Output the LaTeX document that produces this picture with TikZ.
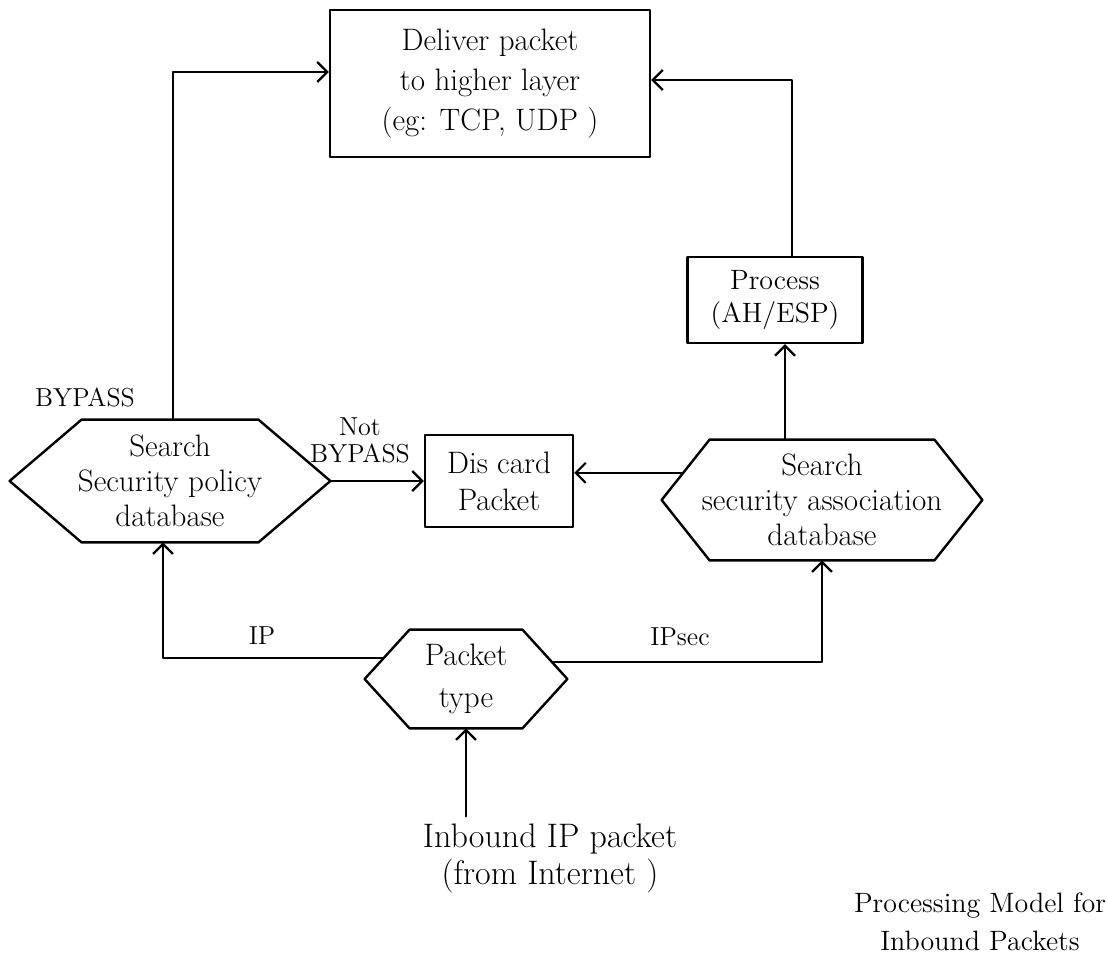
\documentclass[tikz,border=0pt]{standalone}
\usetikzlibrary{arrows.meta,calc}
\newcommand{\drawhex}[2]{%
  \coordinate (#1-nw) at ([xshift=#2]#1.north west);
  \coordinate (#1-ne) at ([xshift=-#2]#1.north east);
  \coordinate (#1-se) at ([xshift=-#2]#1.south east);
  \coordinate (#1-sw) at ([xshift=#2]#1.south west);
  \draw[line] (#1.west) -- (#1-nw) -- (#1-ne) -- (#1.east) -- (#1-se) -- (#1-sw) -- cycle;}
\begin{document}
\begin{tikzpicture}[x=0.5pt,y=-0.5pt,
  line/.style={line width=1.2pt, line cap=round, line join=round},
  arr/.style={line, -{Straight Barb[length=5pt,width=10pt,line width=1.1pt]}},
  boxnode/.style={draw, line, align=center, inner sep=0pt},
  hexnode/.style={align=center, inner sep=0pt},
  lbl/.style={font=\fontsize{13}{13.5}\selectfont},
]
\useasboundingbox (0,0) rectangle (1107,968);

% nodes
\node[boxnode, minimum width=160pt, minimum height=73.5pt, font=\fontsize{15.5}{20}\selectfont] (deliver) at (490,83.5) {Deliver packet\\to higher layer\\(eg: TCP, UDP )};

\node[hexnode, minimum width=160pt, minimum height=61pt, font=\fontsize{15.5}{17.5}\selectfont] (spd) at (170,481) {Search\\Security policy\\database};
\drawhex{spd}{36pt}

\node[boxnode, minimum width=74pt, minimum height=46pt, font=\fontsize{15.5}{18.5}\selectfont] (discard) at (499,481) {Dis card\\Packet};

\node[hexnode, minimum width=160pt, minimum height=60pt, font=\fontsize{15.5}{17.5}\selectfont] (sad) at (822,500) {Search\\security association\\database};
\drawhex{sad}{24pt}

\node[boxnode, minimum width=87.5pt, minimum height=43pt, font=\fontsize{14}{16.5}\selectfont] (process) at (775,300) {Process\\(AH/ESP)};

\node[hexnode, minimum width=101pt, minimum height=49pt, font=\fontsize{15.5}{21}\selectfont] (packet) at (466,679) {Packet\\type};
\drawhex{packet}{22.5pt}

\node[align=center, font=\fontsize{17}{18.5}\selectfont] (inbound) at (550,858) {Inbound IP packet\\(from Internet )};

\node[align=center, font=\fontsize{14}{19}\selectfont] (caption) at (980,922) {Processing Model for\\Inbound Packets};

% labels
\node[lbl] (lbypass) at (85,397) {BYPASS};
\node[lbl, align=center] (lnot) at (360,440) {Not\\BYPASS};
\node[lbl] (lip) at (262,636) {IP};
\node[lbl] (lipsec) at (680,637) {IPsec};

% connectors
\coordinate (dinL) at ([yshift=5.75pt]deliver.west);
\draw[arr] ([xshift=1.5pt]spd.north) |- (dinL);
\coordinate (dinR) at ([yshift=1.75pt]deliver.east);
\draw[arr] ([xshift=8.5pt]process.north) |- (dinR);
\draw[arr] (spd.east) -- (discard.west);
\coordinate (sadout) at ($(sad.west)!0.45!(sad-nw)$);
\draw[arr] (sadout) -- (sadout -| discard.east);
\coordinate (pin) at ([xshift=5pt]process.south);
\draw[arr] (pin |- sad.north) -- (pin);
\coordinate (ipout) at ($(packet.west)!0.43!(packet-nw)$);
\coordinate (spdin) at ([xshift=-3.5pt]spd.south);
\draw[arr] (ipout) -| (spdin);
\coordinate (ipsecout) at ($(packet.east)!0.35!(packet-ne)$);
\draw[arr] (ipsecout) -| (sad.south);
\draw[arr] (packet.south |- inbound.north) -- (packet.south);
\end{tikzpicture}
\end{document}
